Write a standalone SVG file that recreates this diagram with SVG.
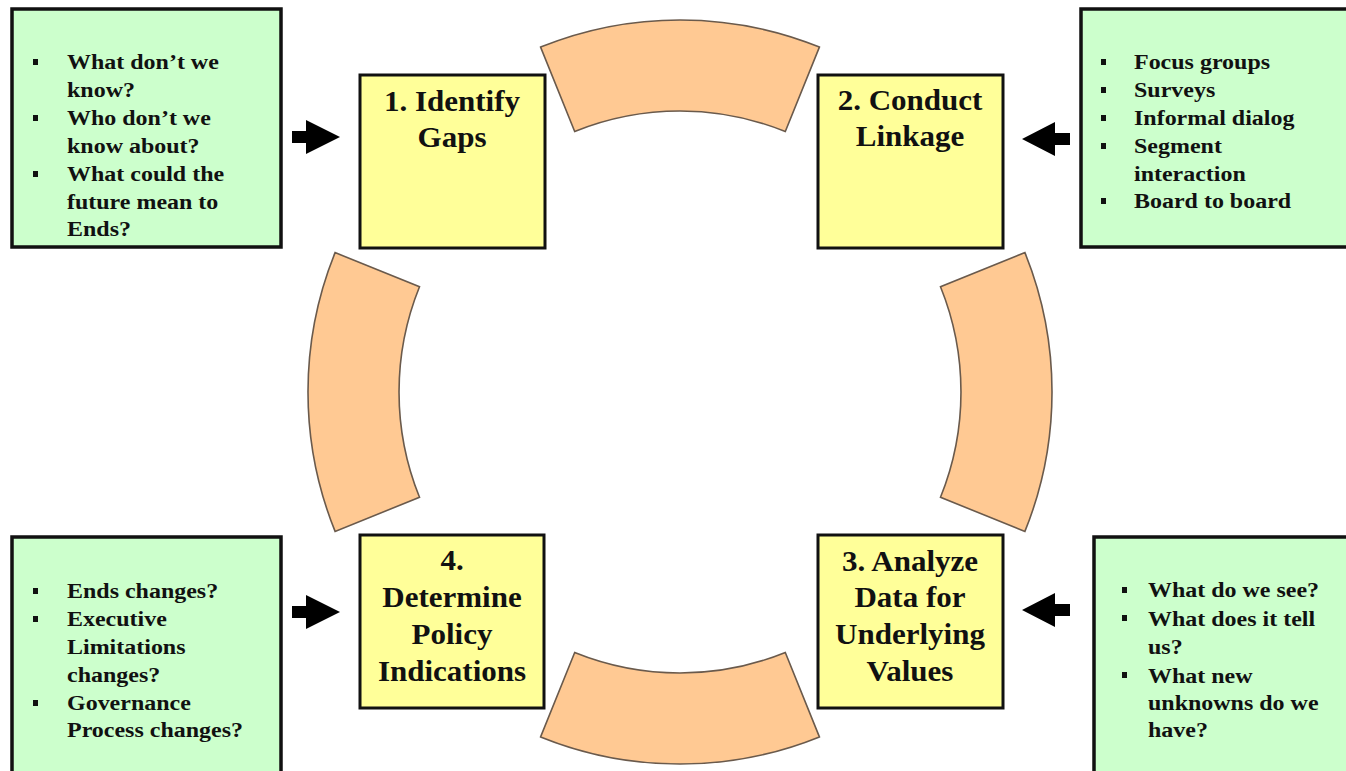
<svg xmlns="http://www.w3.org/2000/svg" width="1346" height="771" viewBox="0 0 1346 771">
  <style>
    .note { fill: #CCFFCC; stroke: #111; stroke-width: 3.5; }
    .step { fill: #FFFF99; stroke: #111; stroke-width: 3; }
    .arc { fill: #FFC993; stroke: #6a5a4c; stroke-width: 1.6; }
    .arrow { fill: #000; }
    .title { font-family: "Liberation Serif", "Times New Roman", serif; font-weight: bold; font-size: 29px; fill: #111; text-anchor: middle; }
    .item { font-family: "Liberation Serif", "Times New Roman", serif; font-weight: bold; font-size: 22px; fill: #111; }
    .bullet { fill: #111; }
  </style>
  <rect width="1346" height="771" fill="#fff"/>

  <!-- cycle ring segments, centre (680,392) -->
  <g id="ring">
    <path class="arc" d="M540.6,47.1 A372,372 0 0 1 819.4,47.1 L785.3,131.5 A281,281 0 0 0 574.7,131.5 Z"/>
    <path class="arc" d="M1024.9,252.6 A372,372 0 0 1 1024.9,531.4 L940.5,497.3 A281,281 0 0 0 940.5,286.7 Z"/>
    <path class="arc" d="M819.4,736.9 A372,372 0 0 1 540.6,736.9 L574.7,652.5 A281,281 0 0 0 785.3,652.5 Z"/>
    <path class="arc" d="M335.1,531.4 A372,372 0 0 1 335.1,252.6 L419.5,286.7 A281,281 0 0 0 419.5,497.3 Z"/>
  </g>

  <!-- step 1 -->
  <g id="step1">
    <rect class="step" x="360" y="75" width="185" height="173"/>
    <g transform="translate(452,0) scale(1.07,1)">
      <text class="title" x="0" y="111">1. Identify</text>
      <text class="title" x="0" y="147">Gaps</text>
    </g>
  </g>
  <!-- step 2 -->
  <g id="step2">
    <rect class="step" x="818" y="75" width="185" height="173"/>
    <g transform="translate(910,0) scale(1.07,1)">
      <text class="title" x="0" y="110">2. Conduct</text>
      <text class="title" x="0" y="146">Linkage</text>
    </g>
  </g>
  <!-- step 3 -->
  <g id="step3">
    <rect class="step" x="818" y="535" width="185" height="173"/>
    <g transform="translate(910,0) scale(1.07,1)">
      <text class="title" x="0" y="571">3. Analyze</text>
      <text class="title" x="0" y="607">Data for</text>
      <text class="title" x="0" y="644">Underlying</text>
      <text class="title" x="0" y="681">Values</text>
    </g>
  </g>
  <!-- step 4 -->
  <g id="step4">
    <rect class="step" x="360" y="535" width="184" height="173"/>
    <g transform="translate(452,0) scale(1.07,1)">
      <text class="title" x="0" y="570">4.</text>
      <text class="title" x="0" y="607">Determine</text>
      <text class="title" x="0" y="644">Policy</text>
      <text class="title" x="0" y="681">Indications</text>
    </g>
  </g>

  <!-- note boxes -->
  <g id="note-gaps">
    <rect class="note" x="12" y="9" width="269" height="238"/>
    <rect class="bullet" x="33" y="59" width="5" height="6"/>
    <rect class="bullet" x="33" y="115" width="5" height="6"/>
    <rect class="bullet" x="33" y="171" width="5" height="6"/>
    <g transform="translate(67,0) scale(1.09,1)">
      <text class="item" x="0" y="69">What don’t we</text>
      <text class="item" x="0" y="97">know?</text>
      <text class="item" x="0" y="125">Who don’t we</text>
      <text class="item" x="0" y="153">know about?</text>
      <text class="item" x="0" y="181">What could the</text>
      <text class="item" x="0" y="209">future mean to</text>
      <text class="item" x="0" y="236">Ends?</text>
    </g>
  </g>
  <g id="note-linkage">
    <rect class="note" x="1081" y="9" width="270" height="238"/>
    <rect class="bullet" x="1101" y="59" width="5" height="6"/>
    <rect class="bullet" x="1101" y="87" width="5" height="6"/>
    <rect class="bullet" x="1101" y="115" width="5" height="6"/>
    <rect class="bullet" x="1101" y="143" width="5" height="6"/>
    <rect class="bullet" x="1101" y="198" width="5" height="6"/>
    <g transform="translate(1134,0) scale(1.09,1)">
      <text class="item" x="0" y="69">Focus groups</text>
      <text class="item" x="0" y="97">Surveys</text>
      <text class="item" x="0" y="125">Informal dialog</text>
      <text class="item" x="0" y="153">Segment</text>
      <text class="item" x="0" y="181">interaction</text>
      <text class="item" x="0" y="208">Board to board</text>
    </g>
  </g>
  <g id="note-analyze">
    <rect class="note" x="1094" y="537" width="257" height="240"/>
    <rect class="bullet" x="1122" y="587" width="5" height="6"/>
    <rect class="bullet" x="1122" y="615" width="5" height="6"/>
    <rect class="bullet" x="1122" y="672" width="5" height="6"/>
    <g transform="translate(1148,0) scale(1.09,1)">
      <text class="item" x="0" y="597">What do we see?</text>
      <text class="item" x="0" y="626">What does it tell</text>
      <text class="item" x="0" y="654">us?</text>
      <text class="item" x="0" y="683">What new</text>
      <text class="item" x="0" y="710">unknowns do we</text>
      <text class="item" x="0" y="737">have?</text>
    </g>
  </g>
  <g id="note-policy">
    <rect class="note" x="12" y="537" width="269" height="240"/>
    <rect class="bullet" x="33" y="588" width="5" height="6"/>
    <rect class="bullet" x="33" y="616" width="5" height="6"/>
    <rect class="bullet" x="33" y="700" width="5" height="6"/>
    <g transform="translate(67,0) scale(1.09,1)">
      <text class="item" x="0" y="598">Ends changes?</text>
      <text class="item" x="0" y="626">Executive</text>
      <text class="item" x="0" y="654">Limitations</text>
      <text class="item" x="0" y="682">changes?</text>
      <text class="item" x="0" y="710">Governance</text>
      <text class="item" x="0" y="737">Process changes?</text>
    </g>
  </g>

  <!-- block arrows from notes into steps -->
  <g id="connectors">
    <path class="arrow" d="M292,131 H306 V120 L340,137 L306,154 V143 H292 Z"/>
    <path class="arrow" d="M1070,133 H1055 V122 L1022,139 L1055,156 V145 H1070 Z"/>
    <path class="arrow" d="M292,606 H306 V595 L340,612 L306,629 V618 H292 Z"/>
    <path class="arrow" d="M1070,604 H1055 V593 L1022,610 L1055,627 V616 H1070 Z"/>
  </g>
</svg>
